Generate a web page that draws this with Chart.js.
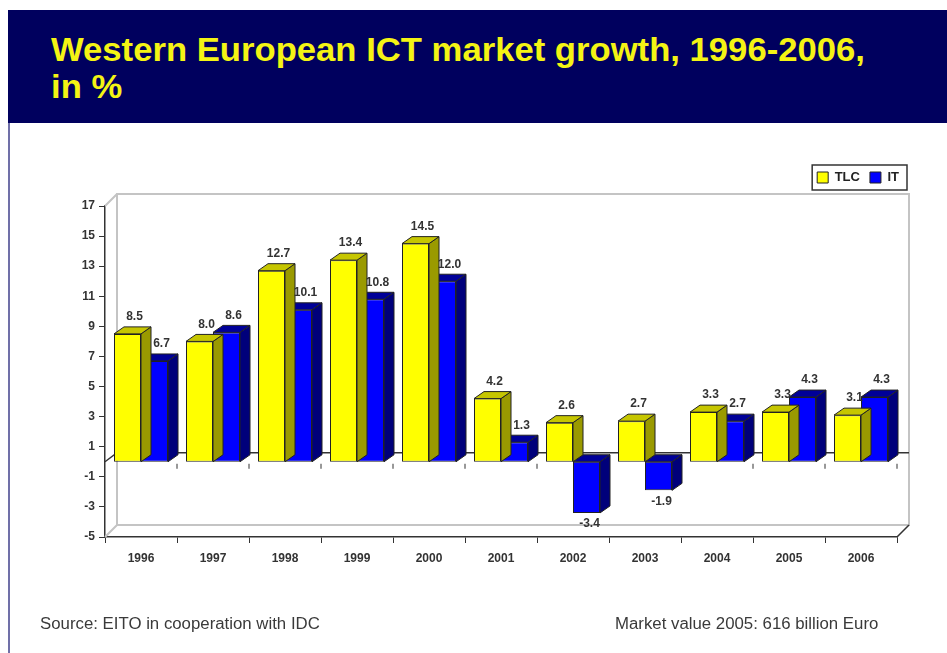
<!DOCTYPE html>
<html>
<head>
<meta charset="utf-8">
<title>Western European ICT market growth</title>
<script src="https://cdn.jsdelivr.net/npm/chart.js@4.4.0/dist/chart.umd.min.js"></script>
<style>
  html, body { margin: 0; padding: 0; background: #fff; }
  body { width: 947px; height: 653px; position: relative; overflow: hidden; font-family: "Liberation Sans", Arial, sans-serif; }
  #banner {
    position: absolute; left: 8px; top: 10px; width: 939px; height: 113px;
    background: #00005e;
  }
  #banner h1 {
    margin: 0; position: absolute; left: 43px; top: 21px;
    color: #f4f414; font-size: 33px; line-height: 37px; font-weight: bold;
    white-space: nowrap; transform: scaleX(1.05); transform-origin: left top;
  }
  #edge { position: absolute; left: 8px; top: 123px; width: 2px; height: 530px; background: #7070a8; }
  #wrap { position: absolute; left: 0; top: 123px; width: 947px; height: 530px; }
  .note {
    position: absolute; top: 615px; font-size: 16px; color: #3a3a3a; white-space: nowrap;
    transform: scaleX(1.05); transform-origin: left top;
  }
</style>
</head>
<body>
<div id="banner"><h1>Western European ICT market growth, 1996-2006,<br>in %</h1></div>
<div id="edge"></div>
<div id="wrap"><canvas id="grafica"></canvas></div>
<div class="note" style="left:40px">Source: EITO in cooperation with IDC</div>
<div class="note" style="left:615px">Market value 2005: 616 billion Euro</div>

<script>
const years = ['1996', '1997', '1998', '1999', '2000', '2001', '2002', '2003', '2004', '2005', '2006'];
const tlc = [8.5, 8.0, 12.7, 13.4, 14.5, 4.2, 2.6, 2.7, 3.3, 3.3, 3.1];
const it = [6.7, 8.6, 10.1, 10.8, 12.0, 1.3, -3.4, -1.9, 2.7, 4.3, 4.3];
const yTicks = { min: -5, max: 17, step: 2 };

// depth of the bars and of the back wall
const DX = 10, DY = -7;
const WALL = 12;

const sideColors = ['#9a9a00', '#00007a'];
const topColors = ['#c6c600', '#000098'];

const FONT = '"Liberation Sans", Arial, sans-serif';

// empty layout box, keeps room between legend and plot / on the right
function spacer(position, size) {
    return {
        position,
        weight: -10,
        fullSize: false,
        options: {},
        left: 0, top: 0, right: 0, bottom: 0, width: 0, height: 0,
        isHorizontal() { return position === 'top' || position === 'bottom'; },
        update(maxWidth, maxHeight) {
            if (this.isHorizontal()) { this.width = maxWidth; this.height = size; }
            else { this.width = size; this.height = maxHeight; }
        },
        draw() {}
    };
}

const spacers = {
    id: 'spacers',
    beforeInit(chart) {
        Chart.layouts.addBox(chart, spacer('top', 12));
        Chart.layouts.addBox(chart, spacer('right', 12));
    }
};

/* =========================
   3D FRAME (wall, floor, zero plane)
========================= */
const frame3d = {
    id: 'frame3d',
    beforeDatasetsDraw(chart) {
        const { ctx, chartArea: a, scales } = chart;
        const y0 = scales.y.getPixelForValue(0);
        const w = a.right - a.left, h = a.bottom - a.top;
        ctx.save();
        ctx.strokeStyle = '#c4c4c4';
        ctx.lineWidth = 2;
        ctx.strokeRect(a.left + WALL, a.top - WALL, w, h);
        ctx.beginPath();
        ctx.moveTo(a.left, a.top); ctx.lineTo(a.left + WALL, a.top - WALL);
        ctx.moveTo(a.left, a.bottom); ctx.lineTo(a.left + WALL, a.bottom - WALL);
        ctx.stroke();

        ctx.strokeStyle = '#333';
        ctx.lineWidth = 1.5;
        ctx.beginPath();
        ctx.moveTo(a.right, a.bottom); ctx.lineTo(a.right + WALL, a.bottom - WALL);
        // zero plane
        ctx.moveTo(a.left, y0); ctx.lineTo(a.left + WALL, y0 - 9);
        ctx.lineTo(a.right + WALL, y0 - 9);
        ctx.stroke();

        ctx.lineWidth = 1;
        const step = w / years.length;
        ctx.beginPath();
        for (let i = 1; i <= years.length; i++) {
            const x = a.left + i * step;
            ctx.moveTo(x, y0 + 2); ctx.lineTo(x, y0 + 7);
        }
        ctx.stroke();
        ctx.restore();
    },
    afterDatasetDraw(chart, args) {
        const { ctx } = chart;
        const i = args.index;
        ctx.save();
        ctx.strokeStyle = '#222';
        ctx.lineWidth = 1;
        args.meta.data.forEach(el => {
            const p = el.getProps(['x', 'y', 'base', 'width'], true);
            const t = Math.min(p.y, p.base), b = Math.max(p.y, p.base);
            const l = p.x - p.width / 2, r = p.x + p.width / 2;
            ctx.fillStyle = sideColors[i];
            ctx.beginPath();
            ctx.moveTo(r, t); ctx.lineTo(r + DX, t + DY);
            ctx.lineTo(r + DX, b + DY); ctx.lineTo(r, b);
            ctx.closePath(); ctx.fill(); ctx.stroke();
            ctx.fillStyle = topColors[i];
            ctx.beginPath();
            ctx.moveTo(l, t); ctx.lineTo(l + DX, t + DY);
            ctx.lineTo(r + DX, t + DY); ctx.lineTo(r, t);
            ctx.closePath(); ctx.fill(); ctx.stroke();
        });
        ctx.restore();
    },
    afterDatasetsDraw(chart) {
        const { ctx } = chart;
        ctx.save();
        ctx.fillStyle = '#333';
        ctx.font = 'bold 12px ' + FONT;
        ctx.textAlign = 'center';
        chart.data.datasets.forEach((ds, i) => {
            chart.getDatasetMeta(i).data.forEach((el, j) => {
                const v = ds.data[j];
                if (v >= 0) {
                    ctx.textBaseline = 'bottom';
                    ctx.fillText(v.toFixed(1), el.x + 7, el.y + DY - 4);
                } else {
                    ctx.textBaseline = 'top';
                    ctx.fillText(v.toFixed(1), el.x + 3, el.y + 5);
                }
            });
        });
        ctx.restore();
    },
    afterDraw(chart) {
        // frame around the legend
        const boxes = chart.legend.legendHitBoxes;
        if (!boxes || !boxes.length) return;
        const l = Math.min(...boxes.map(b => b.left)) - 5;
        const r = Math.max(...boxes.map(b => b.left + b.width)) + 8;
        const t = boxes[0].top - 6;
        const h = boxes[0].height + 12;
        const { ctx } = chart;
        ctx.save();
        ctx.strokeStyle = '#333';
        ctx.lineWidth = 1.5;
        ctx.strokeRect(l, t, r - l, h);
        ctx.restore();
    }
};

const grafica = document.getElementById('grafica');

new Chart(grafica, {
    type: 'bar',
    data: {
        labels: years,
        datasets: [{
            label: 'TLC',
            data: tlc,
            backgroundColor: '#ffff00',
            borderColor: '#222',
            borderWidth: 1,
            borderSkipped: false
        }, {
            label: 'IT',
            data: it,
            backgroundColor: '#0000ff',
            borderColor: '#222',
            borderWidth: 1,
            borderSkipped: false
        }]
    },
    options: {
        responsive: true,
        maintainAspectRatio: false,
        animation: false,
        categoryPercentage: 0.75,
        barPercentage: 1.0,
        layout: { padding: { left: 0, right: 38, top: 38, bottom: 0 } },
        plugins: {
            legend: {
                position: 'top',
                align: 'end',
                labels: {
                    boxWidth: 11,
                    boxHeight: 11,
                    padding: 10,
                    color: '#222',
                    font: { family: FONT, size: 13, weight: 'bold' }
                }
            },
            tooltip: { enabled: false }
        },
        scales: {
            x: {
                afterFit: s => { s.height = 116; },
                grid: { drawOnChartArea: false, drawTicks: true, tickLength: 6, color: '#333', offset: true },
                border: { color: '#333', width: 1.5 },
                ticks: { color: '#333', padding: 8, font: { family: FONT, size: 12, weight: 'bold' } }
            },
            y: {
                min: yTicks.min,
                max: yTicks.max,
                afterFit: s => { s.width = 105; },
                grid: { drawOnChartArea: false, drawTicks: true, tickLength: 6, color: '#333' },
                border: { color: '#333', width: 1.5 },
                ticks: { stepSize: yTicks.step, color: '#333', padding: 4, font: { family: FONT, size: 12, weight: 'bold' } }
            }
        }
    },
    plugins: [spacers, frame3d]
});
</script>
</body>
</html>
